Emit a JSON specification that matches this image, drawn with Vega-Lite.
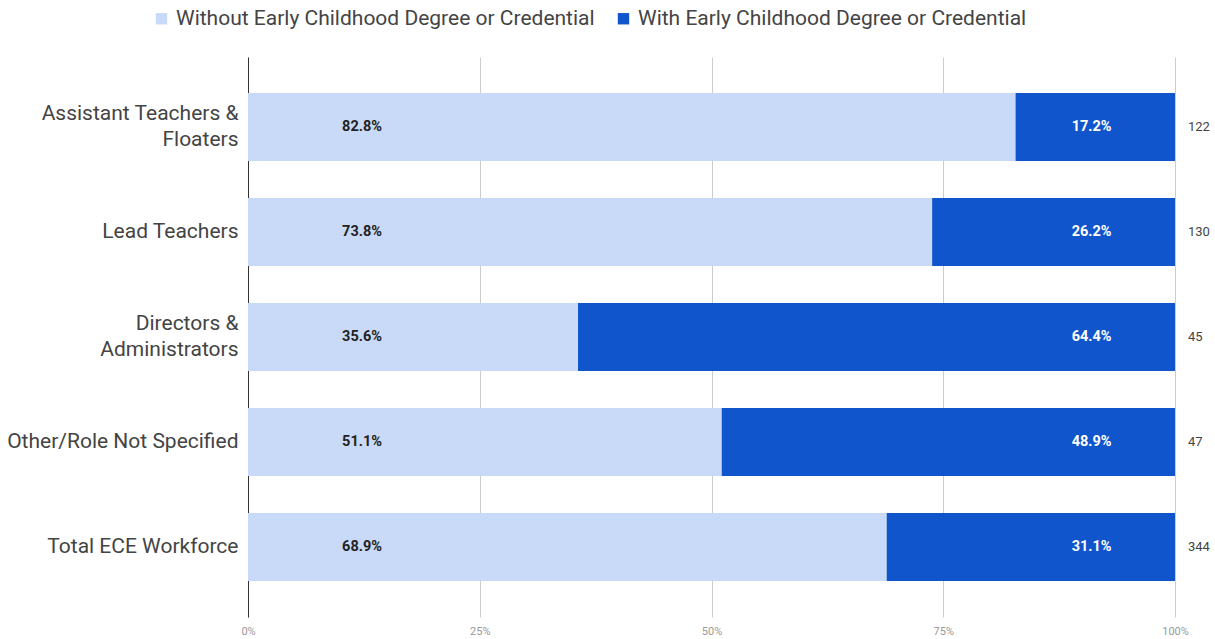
{
  "$schema": "https://vega.github.io/schema/vega-lite/v6.json",
  "autosize": {"type": "none"},
  "width": 927,
  "height": 560,
  "padding": {"left": 248, "top": 57, "right": 40, "bottom": 22},
  "background": "#ffffff",
  "config": {
    "font": "Roboto",
    "view": {"stroke": null}
  },
  "datasets": {
    "shares": [
      {"role": "Assistant Teachers & Floaters", "series": "Without Early Childhood Degree or Credential", "share": 0.828},
      {"role": "Assistant Teachers & Floaters", "series": "With Early Childhood Degree or Credential", "share": 0.172},
      {"role": "Lead Teachers", "series": "Without Early Childhood Degree or Credential", "share": 0.738},
      {"role": "Lead Teachers", "series": "With Early Childhood Degree or Credential", "share": 0.262},
      {"role": "Directors & Administrators", "series": "Without Early Childhood Degree or Credential", "share": 0.356},
      {"role": "Directors & Administrators", "series": "With Early Childhood Degree or Credential", "share": 0.644},
      {"role": "Other/Role Not Specified", "series": "Without Early Childhood Degree or Credential", "share": 0.511},
      {"role": "Other/Role Not Specified", "series": "With Early Childhood Degree or Credential", "share": 0.489},
      {"role": "Total ECE Workforce", "series": "Without Early Childhood Degree or Credential", "share": 0.689},
      {"role": "Total ECE Workforce", "series": "With Early Childhood Degree or Credential", "share": 0.311}
    ],
    "totals": [
      {"role": "Assistant Teachers & Floaters", "n": 122},
      {"role": "Lead Teachers", "n": 130},
      {"role": "Directors & Administrators", "n": 45},
      {"role": "Other/Role Not Specified", "n": 47},
      {"role": "Total ECE Workforce", "n": 344}
    ]
  },
  "encoding": {
    "y": {
      "field": "role",
      "type": "nominal",
      "sort": ["Assistant Teachers & Floaters", "Lead Teachers", "Directors & Administrators", "Other/Role Not Specified", "Total ECE Workforce"],
      "scale": {"paddingInner": 0.352, "paddingOuter": 0.343},
      "axis": {
        "title": null,
        "ticks": false,
        "domain": true,
        "domainColor": "#333333",
        "domainWidth": 1,
        "labelFontSize": 21,
        "labelColor": "#444444",
        "labelPadding": 10,
        "labelLineHeight": 26,
        "labelLimit": 300,
        "labelOffset": {"condition": {"test": "indexof(datum.value, '&') >= 0", "value": -13}, "value": 0},
        "labelExpr": "datum.value == 'Assistant Teachers & Floaters' ? ['Assistant Teachers &', 'Floaters'] : datum.value == 'Directors & Administrators' ? ['Directors &', 'Administrators'] : datum.value"
      }
    }
  },
  "layer": [
    {
      "data": {"name": "shares"},
      "mark": {"type": "bar"},
      "encoding": {
        "x": {
          "field": "share",
          "type": "quantitative",
          "stack": "zero",
          "scale": {"domain": [0, 1], "nice": false},
          "axis": {
            "title": null,
            "values": [0, 0.25, 0.5, 0.75, 1],
            "format": ".0%",
            "domain": false,
            "ticks": false,
            "grid": true,
            "gridColor": "#cccccc",
            "labelFlush": false,
            "labelFontSize": 11,
            "labelColor": "#999999",
            "labelPadding": 8
          }
        },
        "color": {
          "field": "series",
          "type": "nominal",
          "scale": {
            "domain": ["Without Early Childhood Degree or Credential", "With Early Childhood Degree or Credential"],
            "range": ["#c9daf8", "#1155cc"]
          },
          "legend": {
            "title": null,
            "orient": "none",
            "direction": "horizontal",
            "legendX": -97,
            "legendY": -49,
            "symbolType": "square",
            "symbolSize": 130,
            "symbolStrokeWidth": 0,
            "labelFontSize": 21,
            "labelColor": "#444444",
            "labelOffset": 4,
            "columnPadding": 18,
            "labelLimit": 600
          }
        },
        "order": {"field": "series", "sort": "descending"}
      }
    },
    {
      "data": {"name": "shares"},
      "transform": [{"filter": "datum.series == 'Without Early Childhood Degree or Credential'"}],
      "mark": {"type": "text", "fontSize": 14.5, "fontWeight": "bold", "color": "#222222", "align": "center", "baseline": "middle"},
      "encoding": {
        "x": {"datum": 0.123, "type": "quantitative"},
        "text": {"field": "share", "type": "quantitative", "format": ".1%"}
      }
    },
    {
      "data": {"name": "shares"},
      "transform": [{"filter": "datum.series == 'With Early Childhood Degree or Credential'"}],
      "mark": {"type": "text", "fontSize": 14.5, "fontWeight": "bold", "color": "#ffffff", "align": "center", "baseline": "middle"},
      "encoding": {
        "x": {"datum": 0.91, "type": "quantitative"},
        "text": {"field": "share", "type": "quantitative", "format": ".1%"}
      }
    },
    {
      "data": {"name": "totals"},
      "mark": {"type": "text", "fontSize": 13, "color": "#444444", "align": "left", "baseline": "middle", "dx": 13},
      "encoding": {
        "x": {"datum": 1, "type": "quantitative"},
        "text": {"field": "n", "type": "quantitative"}
      }
    }
  ]
}
